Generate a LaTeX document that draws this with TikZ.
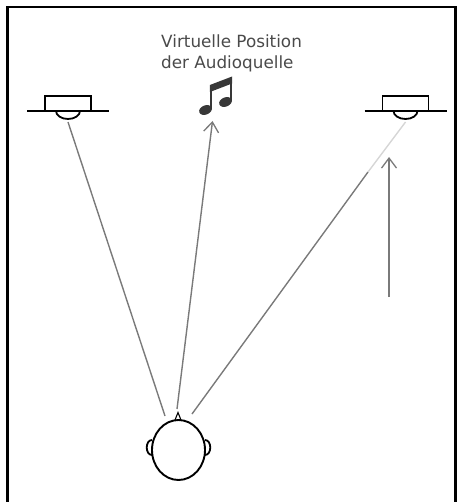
\documentclass[tikz,border=0pt]{standalone}
\usepackage{fontspec}
\setmainfont{DejaVu Sans}
\usetikzlibrary{arrows.meta,shapes.geometric}
\definecolor{raygray}{HTML}{7A7A7A}
\definecolor{rayfade}{HTML}{D6D6D6}
\definecolor{labeltext}{HTML}{4A4A4A}
\definecolor{notecolor}{HTML}{383838}
\begin{document}
\begin{tikzpicture}[x=1pt,y=-1pt,
  frame/.style={line width=2.6pt,black},
  outline/.style={line width=1.8pt,black},
  ray/.style={line width=1.4pt,draw=raygray},
  fadedray/.style={line width=1.4pt,draw=rayfade},
  barb/.style={-{Straight Barb[length=10pt,width=15pt,line width=1.3pt]}},
  speaker/.pic={
    \draw[outline] (-41,0) -- (41,0);
    \draw[outline] (-23,0) -- (-23,-15) -- (23,-15) -- (23,0);
    \draw[outline] (-12,0) arc[start angle=180,end angle=0,x radius=12,y radius=8];
    \coordinate (-cone) at (0,11);
  }]
\useasboundingbox (0,0) rectangle (459,502);
% open frame: left, top and right edges
\draw[frame] (7.5,502) -- (7.5,7) -- (455.5,7) -- (455.5,502);

% loudspeakers
\pic (spkL) at (68,111) {speaker};
\pic (spkR) at (405.5,111) {speaker};

% label of the virtual source
\node (label) [anchor=north west, align=left, inner sep=0, text=labeltext,
  font=\fontsize{16.8}{21.5}\selectfont] at (161,34.5)
  {Virtuelle Position\\der Audioquelle};

% beamed pair of eighth notes
\fill[notecolor, rotate around={22:(205.5,110)}] (205.5,110) ellipse[x radius=6.6, y radius=4.6];
\fill[notecolor, rotate around={22:(225.5,102)}] (225.5,102) ellipse[x radius=6.6, y radius=4.6];
\draw[notecolor, line width=2.2pt] (211,109) -- (211,87);
\draw[notecolor, line width=2.2pt] (231,101) -- (231,79);
\fill[notecolor] (209.9,85) -- (232.1,76.5) -- (232.1,83.5) -- (209.9,92) -- cycle;

% listener's head seen from above
\node (head) [ellipse, draw, line width=1.9pt, minimum width=53pt,
  minimum height=60pt, inner sep=0] at (178.5,450) {};
\draw[outline] (152,440) .. controls (145,440) and (145,455) .. (152,455);
\draw[outline] (205,440) .. controls (212,440) and (212,455) .. (205,455);
\draw[line width=1.1pt] (175,420) -- (178,412.5) -- (181,420);

% ray end points
\coordinate (earL) at (165,416);
\coordinate (noseTip) at (177,409);
\coordinate (earR) at (192,414);
\coordinate (fadeR) at (368,172);
\coordinate (noteFoot) at (212.5,121);
\coordinate (vTail) at (389,297);
\coordinate (vTip) at (389,157);

% rays
\draw[ray] (spkL-cone) -- (earL);
\draw[ray,barb] (noseTip) -- (noteFoot);
\draw[ray] (earR) -- (fadeR);
\draw[fadedray] (fadeR) -- (spkR-cone);
\draw[ray,barb] (vTail) -- (vTip);
\end{tikzpicture}
\end{document}
